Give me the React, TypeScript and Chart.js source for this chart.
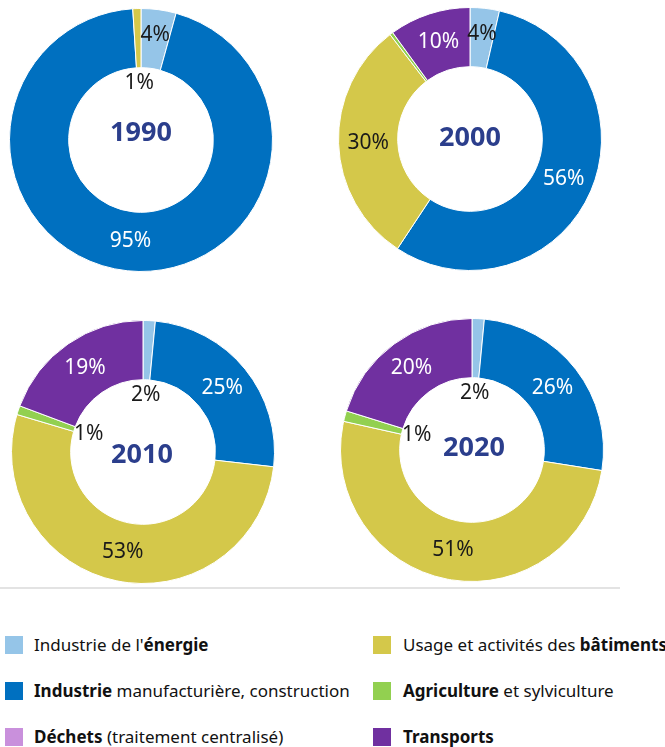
import React, { useEffect, useRef } from "react";
import { Chart, registerables } from "chart.js";

Chart.register(...registerables);

// ---- data ----
const categories = [
  "Industrie de l'énergie",
  "Industrie manufacturière, construction",
  "Déchets (traitement centralisé)",
  "Usage et activités des bâtiments",
  "Agriculture et sylviculture",
  "Transports",
];
const years = ["1990", "2000", "2010", "2020"];
const values1990 = [4.3, 94.7, 0, 1.0, 0, 0];
const values2000 = [3.6, 55.7, 0, 30.3, 0.4, 10.0];
const values2010 = [1.5, 25.3, 0, 52.8, 1.1, 19.3];
const values2020 = [1.5, 26.0, 0, 51.0, 1.3, 20.2];
const seriesByYear = [values1990, values2000, values2010, values2020];

// legend rich text: [normal, bold, normal] pieces per category
const legendParts: [string, string, string][] = [
  ["Industrie de l'", "énergie", ""],
  ["", "Industrie", " manufacturière, construction"],
  ["", "Déchets", " (traitement centralisé)"],
  ["Usage et activités des ", "bâtiments", ""],
  ["", "Agriculture", " et sylviculture"],
  ["", "Transports", ""],
];

// ---- styles ----
const colors = ["#95C5E8", "#0070C0", "#C990DC", "#D4C84A", "#92D050", "#7030A0"];
const labelColors = ["#1a1a1a", "#ffffff", "#1a1a1a", "#1a1a1a", "#1a1a1a", "#ffffff"];
const yearColor = "#2B3E8C";
const FONT = "'Noto Sans', 'Open Sans', sans-serif";

// layout: canvas boxes (left, top) and year-text offsets
const CANVAS = 264;
const boxes = [
  { left: 9, top: 8, yearDx: 0, yearDy: -7 },
  { left: 338, top: 7, yearDx: 0, yearDy: -1 },
  { left: 11, top: 320, yearDx: -1, yearDy: 3 },
  { left: 340, top: 318, yearDx: 2, yearDy: -2 },
];

const labelPlugin = {
  id: "sliceLabels",
  afterDatasetsDraw(chart: any, _args: any, opts: any) {
    const ctx = chart.ctx;
    const meta = chart.getDatasetMeta(0);
    const data = chart.data.datasets[0].data as number[];
    ctx.save();
    ctx.textAlign = "center";
    ctx.textBaseline = "middle";
    ctx.font = `21px ${FONT}`;
    let cx = 0;
    let cy = 0;
    meta.data.forEach((arc: any, i: number) => {
      const p = arc.getProps(["x", "y", "startAngle", "endAngle", "innerRadius", "outerRadius"], true);
      cx = p.x;
      cy = p.y;
      const v = data[i];
      if (v < 0.5) return;
      const mid = (p.startAngle + p.endAngle) / 2;
      const small = v < 3;
      const r = small ? p.innerRadius - 15 : (p.innerRadius + p.outerRadius) / 2 + (v < 5 ? 4 : 0);
      ctx.fillStyle = small ? "#1a1a1a" : labelColors[i];
      ctx.fillText(Math.round(v) + "%", p.x + Math.cos(mid) * r, p.y + Math.sin(mid) * r);
    });
    ctx.font = `bold 27px ${FONT}`;
    ctx.fillStyle = yearColor;
    ctx.fillText(opts.year, cx + opts.dx, cy + opts.dy);
    ctx.restore();
  },
};

function Donut({ idx }: { idx: number }) {
  const ref = useRef<HTMLCanvasElement | null>(null);
  useEffect(() => {
    if (!ref.current) return;
    const b = boxes[idx];
    const chart = new Chart(ref.current, {
      type: "doughnut",
      data: {
        labels: categories,
        datasets: [
          {
            data: seriesByYear[idx],
            backgroundColor: colors,
            borderColor: "#ffffff",
            borderWidth: 1,
          },
        ],
      },
      options: {
        responsive: false,
        animation: false,
        cutout: "55%",
        layout: { padding: 0 },
        plugins: {
          legend: { display: false },
          tooltip: { enabled: false },
          sliceLabels: { year: years[idx], dx: b.yearDx, dy: b.yearDy },
        } as any,
      },
      plugins: [labelPlugin],
    });
    return () => chart.destroy();
  }, [idx]);
  const b = boxes[idx];
  return (
    <canvas
      ref={ref}
      width={CANVAS}
      height={CANVAS}
      style={{ position: "absolute", left: b.left, top: b.top, width: CANVAS, height: CANVAS }}
    />
  );
}

const legendRows = [645, 691, 737];
const legendCols = [{ sq: 5, tx: 34 }, { sq: 373, tx: 403 }];

export default function App() {
  return (
    <div
      style={{
        position: "absolute",
        left: 0,
        top: 0,
        width: 665,
        height: 747,
        overflow: "hidden",
        background: "#ffffff",
        fontFamily: FONT,
      }}
    >
      {years.map((_, i) => (
        <Donut key={i} idx={i} />
      ))}
      <div
        style={{ position: "absolute", left: 0, top: 587, width: 620, height: 2, background: "#E3E3E3" }}
      />
      {categories.map((c, i) => {
        const col = legendCols[Math.floor(i / 3)];
        const y = legendRows[i % 3];
        const parts = legendParts[i];
        return (
          <React.Fragment key={c}>
            <div
              style={{
                position: "absolute",
                left: col.sq,
                top: y - 9,
                width: 18,
                height: 18,
                background: colors[i],
              }}
            />
            <div
              style={{
                position: "absolute",
                left: col.tx,
                top: y - 12,
                height: 24,
                lineHeight: "24px",
                fontSize: 17,
                color: "#111111",
                whiteSpace: "nowrap",
              }}
            >
              {parts[0]}
              <b>{parts[1]}</b>
              {parts[2]}
            </div>
          </React.Fragment>
        );
      })}
    </div>
  );
}
